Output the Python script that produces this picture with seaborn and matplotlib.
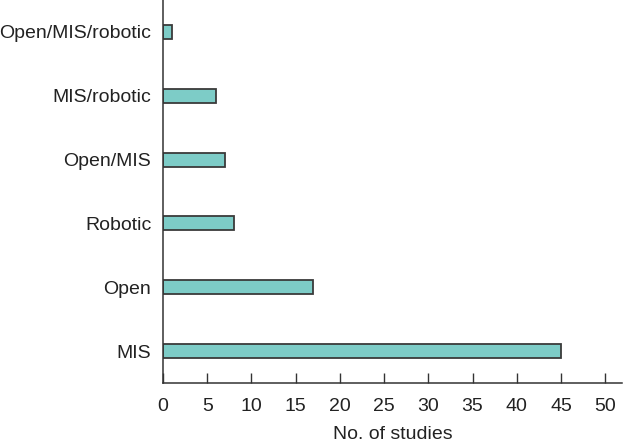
import pandas as pd
import matplotlib
matplotlib.use("Agg")
import matplotlib.pyplot as plt
import seaborn as sns

# datos del gráfico
categorias = ['Open/MIS/robotic', 'MIS/robotic', 'Open/MIS', 'Robotic', 'Open', 'MIS']
n_estudios = [1, 6, 7, 8, 17, 45]
ticks_x = [0, 5, 10, 15, 20, 25, 30, 35, 40, 45, 50]

df = pd.DataFrame({'Tipo': categorias, 'Estudios': n_estudios})

sns.set_theme(style="ticks")
plt.rcParams['font.family'] = ['Liberation Sans', 'DejaVu Sans']
plt.rcParams['xtick.direction'] = 'in'

fig = plt.figure(figsize=(6.24, 4.43), dpi=100)
ax = fig.add_axes([0.2612, 0.1354, 0.7356, 0.8646])

sns.barplot(
    data=df, x='Estudios', y='Tipo', order=categorias,
    color='#7dccc7', saturation=1, width=0.22,
    edgecolor='#3a3a3a', linewidth=1.3, ax=ax
)

ax.set_xlim(0, 51.9)
ax.set_xticks(ticks_x)
ax.set_xlabel('No. of studies', fontsize=14, color='#222222', labelpad=8)
ax.set_ylabel('')
ax.tick_params(axis='x', direction='in', length=7, width=1, color='#333333',
               labelsize=14, labelcolor='#222222', pad=10.5)
ax.tick_params(axis='y', length=0, labelsize=14, labelcolor='#222222', pad=8.5)

sns.despine(ax=ax)
for s in ['left', 'bottom']:
    ax.spines[s].set_color('#333333')
    ax.spines[s].set_linewidth(1.1)

fig.savefig('out.png', dpi=100)
